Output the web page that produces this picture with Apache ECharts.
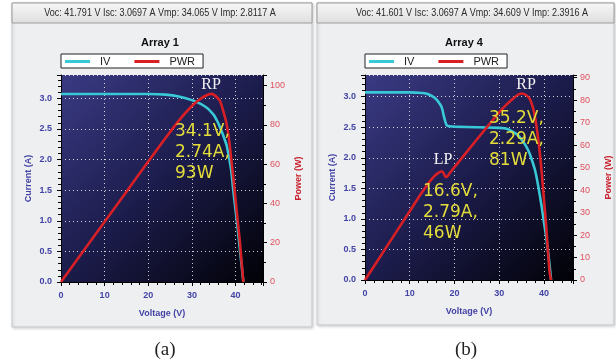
<!DOCTYPE html>
<html><head><meta charset="utf-8">
<script src="https://cdn.jsdelivr.net/npm/echarts@6/dist/echarts.min.js"></script>
<style>html,body{margin:0;padding:0;background:#fff}#c{width:616px;height:364px}</style>
</head><body><div id="c"></div>
<script>
// ---- Data ----
// Array 1
const voltageA = [0, 5, 10, 15, 20, 24, 27, 30, 32, 33.5, 34.5, 35, 36, 36.5, 37, 37.7, 38, 38.5, 39, 39.5, 40, 40.5, 41, 41.4, 41.8];
const currentA = [3.07, 3.07, 3.07, 3.07, 3.07, 3.06, 3.03, 2.97, 2.91, 2.84, 2.77, 2.73, 2.60, 2.52, 2.43, 2.29, 2.22, 2.04, 1.83, 1.49, 1.18, 0.87, 0.53, 0.27, 0];
const powerA   = [0, 15.35, 30.7, 46, 61.4, 73.4, 82.2, 89.6, 93.3, 95.2, 95.8, 95.4, 93.5, 91.9, 88.5, 83, 80, 73, 63, 53, 42, 31, 20.5, 10, 0];
// Array 4
const voltageB = [0, 5, 10, 12, 13, 14, 15, 15.5, 16, 16.5, 17, 17.3, 17.6, 18, 18.3, 18.6, 19, 20, 25, 30, 31.5, 33, 34, 35, 36, 36.8, 37.5, 38, 38.5, 39, 39.5, 40, 40.5, 41, 41.3, 41.6];
const currentB = [3.07, 3.07, 3.07, 3.065, 3.06, 3.045, 3.01, 2.985, 2.95, 2.905, 2.85, 2.79, 2.69, 2.58, 2.53, 2.52, 2.515, 2.51, 2.50, 2.49, 2.48, 2.43, 2.38, 2.30, 2.19, 2.07, 1.92, 1.80, 1.63, 1.42, 1.20, 0.95, 0.71, 0.42, 0.22, 0];
const powerB   = [0, 15.3, 30.6, 36.8, 39.7, 42.6, 45.1, 46.2, 47.1, 47.8, 48.3, 48.3, 47.4, 45.9, 45.8, 46.6, 47.7, 50.2, 62.5, 74.6, 77.8, 80.5, 82.2, 83, 82.3, 80.7, 77, 72.5, 66, 58, 48, 36, 24, 10, 3, 0];
const headerA = 'Voc: 41.791 V Isc: 3.0697 A Vmp: 34.065 V Imp: 2.8117 A';
const headerB = 'Voc: 41.601 V Isc: 3.0697 A Vmp: 34.609 V Imp: 2.3916 A';
const titles = ['Array 1', 'Array 4'];
const legendNames = ['IV', 'PWR'];
const annA = '34.1V,\n2.74A,\n93W';
const annB1 = '35.2V,\n2.29A,\n81W';
const annB2 = '16.6V,\n2.79A,\n46W';
const captions = ['(a)', '(b)'];

const zip = (xs, ys) => xs.map((x, i) => [x, ys[i]]);

const CYAN = '#38c8d6', RED = '#d81f26', BLUE = '#4343a6', RLAB = '#e0505e';
const bg = {type:'linear', x:0, y:0, x2:1, y2:1, colorStops:[
  {offset:0, color:'#3a3a84'}, {offset:0.5, color:'#1c1c4c'}, {offset:1, color:'#010106'}]};

function xAx(gi, max) {
  return {gridIndex: gi, type:'value', min:0, max:max, interval:10,
    axisLine:{show:true, onZero:false, lineStyle:{color:'#000', width:1}},
    axisTick:{show:true, length:4, lineStyle:{color:'#000'}},
    minorTick:{show:true, splitNumber:5, length:3, lineStyle:{color:'#000'}},
    axisLabel:{color:BLUE, fontSize:9, fontWeight:'bold', fontFamily:'Liberation Sans', margin:9, showMaxLabel:false},
    splitLine:{show:true, lineStyle:{color:'rgba(255,255,255,0.8)', type:[1,3], width:1}},
    minorSplitLine:{show:false},
    name:'Voltage (V)', nameLocation:'middle', nameGap:27,
    nameTextStyle:{color:BLUE, fontSize:9, fontWeight:'bold', fontFamily:'Liberation Sans'}};
}
function yLeft(gi, max) {
  return {gridIndex: gi, type:'value', position:'left', min:0, max:max, interval:0.5,
    axisLine:{show:true, onZero:false, lineStyle:{color:'#000', width:1}},
    axisTick:{show:true, length:4, lineStyle:{color:'#000'}},
    minorTick:{show:true, splitNumber:5, length:3, lineStyle:{color:'#000'}},
    axisLabel:{color:BLUE, fontSize:9, fontWeight:'bold', fontFamily:'Liberation Sans', margin:9, showMaxLabel:false,
      formatter: v => v.toFixed(1)},
    splitLine:{show:true, lineStyle:{color:'rgba(255,255,255,0.8)', type:[1,3], width:1}},
    name:'Current (A)', nameLocation:'middle', nameGap:28, nameRotate:90,
    nameTextStyle:{color:BLUE, fontSize:9, fontWeight:'bold', fontFamily:'Liberation Sans'}};
}
function yRight(gi, max, interval) {
  return {gridIndex: gi, type:'value', position:'right', min:0, max:max, interval:interval,
    axisLine:{show:true, onZero:false, lineStyle:{color:'#000', width:1}},
    axisTick:{show:true, length:4, lineStyle:{color:'#000'}},
    minorTick:{show:true, splitNumber:2, length:3, lineStyle:{color:'#000'}},
    axisLabel:{color:RLAB, fontSize:9, fontFamily:'Liberation Sans', margin:7, showMaxLabel:false},
    splitLine:{show:false},
    name:'Power (W)', nameLocation:'middle', nameGap:31, nameRotate:90,
    nameTextStyle:{color:'#c8202c', fontSize:9, fontWeight:'bold', fontFamily:'Liberation Sans'}};
}
function lineSeries(name, xi, yi, data, color) {
  return {type:'line', name:name, xAxisIndex:xi, yAxisIndex:yi, data:data, showSymbol:false,
    smooth:0.15, lineStyle:{color:color, width:2.6}, itemStyle:{color:color}, z:3};
}
function legendFor(left) {
  return {data:legendNames, left:left, top:54, orient:'horizontal',
    icon:'rect', itemWidth:25, itemHeight:3, itemGap:24,
    backgroundColor:'#fff', borderColor:'#222', borderWidth:1, borderRadius:0,
    padding:[1, 8, 0, 4],
    textStyle:{color:'#222', fontSize:11, fontFamily:'Liberation Sans', lineHeight:13, padding:[0,0,0,5]},
    selectedMode:false};
}
function panel(x, w, h, header, hx) {
  return [
    {type:'rect', z:-10, shape:{x:x, y:3, width:w, height:h},
      style:{fill:'#eeeff1', stroke:'#c9cbce', lineWidth:1, shadowColor:'rgba(0,0,0,0.18)', shadowBlur:3, shadowOffsetX:1, shadowOffsetY:1}},
    {type:'rect', z:-9, shape:{x:x, y:3, width:w, height:20},
      style:{fill:{type:'linear', x:0, y:0, x2:0, y2:1, colorStops:[{offset:0,color:'#f7f7f7'},{offset:1,color:'#dedede'}]},
        stroke:'#9c9c9c', lineWidth:1}},
    {type:'text', z:-8, x:hx, y:13, scaleX:0.82, style:{text:header, fill:'#2a2a2a', font:'11px "Liberation Sans"',
      textAlign:'center', textVerticalAlign:'middle'}}
  ];
}
function ann(x, y, text) {
  return {type:'text', z:100, x:x, y:y, style:{text:text, fill:'#e3dc3a', font:'17px "DejaVu Sans"', textAlign:'left',
    textVerticalAlign:'top', lineHeight:21}};
}
function label(x, y, text, font, color) {
  return {type:'text', z:100, x:x, y:y, style:{text:text, fill:color, font:font, textAlign:'center', textVerticalAlign:'middle'}};
}

const chart = echarts.init(document.getElementById('c'), null, {renderer:'canvas'});
chart.setOption({
  animation:false,
  backgroundColor:'#ffffff',
  grid:[
    {left:61, top:75, width:202, height:207, show:true, borderWidth:0, backgroundColor:bg, outerBoundsMode:'none'},
    {left:365, top:75, width:208, height:205, show:true, borderWidth:0, backgroundColor:bg, outerBoundsMode:'none'}
  ],
  xAxis:[xAx(0, 46.3), xAx(1, 46.5)],
  yAxis:[yLeft(0, 3.38), yRight(0, 105.4, 20), yLeft(1, 3.355), yRight(1, 91.2, 10)],
  legend:[legendFor(61), legendFor(365)],
  series:[
    lineSeries('IV', 0, 0, zip(voltageA, currentA), CYAN),
    lineSeries('PWR', 0, 1, zip(voltageA, powerA), RED),
    lineSeries('IV', 1, 2, zip(voltageB, currentB), CYAN),
    lineSeries('PWR', 1, 3, zip(voltageB, powerB), RED)
  ],
  graphic:{elements:[].concat(
    panel(12, 300, 324, headerA, 160),
    panel(317, 297, 322, headerB, 472),
    [
      label(160, 43, titles[0], 'bold 11px "Liberation Sans"', '#111'),
      label(464, 43, titles[1], 'bold 11px "Liberation Sans"', '#111'),
      label(211, 85, 'RP', '16px "Liberation Serif"', '#f2f2f2'),
      label(526, 85, 'RP', '16px "Liberation Serif"', '#f2f2f2'),
      label(443, 160, 'LP', '16px "Liberation Serif"', '#f2f2f2'),
      ann(175, 121, annA),
      ann(489, 108, annB1),
      ann(423, 181, annB2),
      label(165, 350, captions[0], '19px "Liberation Serif"', '#222'),
      label(466, 350, captions[1], '19px "Liberation Serif"', '#222')
    ]
  )}
});
</script></body></html>
